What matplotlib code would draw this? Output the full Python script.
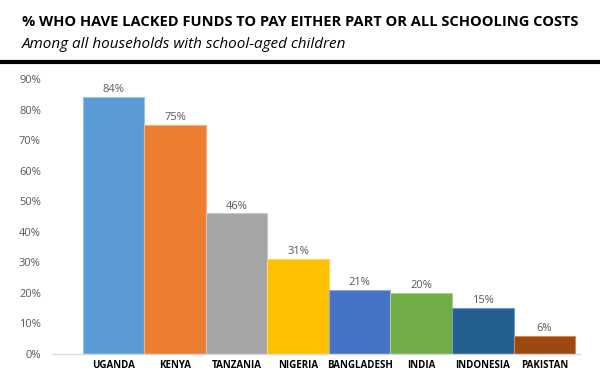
import matplotlib.pyplot as plt
from matplotlib.ticker import PercentFormatter

countries = ['UGANDA', 'KENYA', 'TANZANIA', 'NIGERIA', 'BANGLADESH', 'INDIA', 'INDONESIA', 'PAKISTAN']
values = [84, 75, 46, 31, 21, 20, 15, 6]
colors = ['#5B9BD5', '#ED7D31', '#A5A5A5', '#FFC000', '#4472C4', '#70AD47', '#255E91', '#9E480E']
edges = ['#9DC3E6', '#F4B183', '#C9C9C9', '#FFD966', '#8FAADC', '#A9D18E', '#6F9BC4', '#D08A5A']

plt.rcParams['font.family'] = ['Open Sans', 'DejaVu Sans']

fig = plt.figure(figsize=(6, 3.82), dpi=100)

# titre + sous-titre
fig.text(22 / 600, 1 - 22 / 382, '% WHO HAVE LACKED FUNDS TO PAY EITHER PART OR ALL SCHOOLING COSTS',
         fontsize=10.5, fontweight='bold', va='center', ha='left', color='black')
fig.text(22 / 600, 1 - 44 / 382, 'Among all households with school-aged children',
         fontsize=11, fontstyle='italic', va='center', ha='left', color='black')
fig.add_artist(plt.Line2D([0, 1], [1 - 62 / 382, 1 - 62 / 382], color='black', lw=3))

ax = fig.add_axes([52 / 600, 1 - 354 / 382, (580 - 52) / 600, (354 - 79) / 382])
x = range(len(countries))
ax.bar(x, values, width=1.0, color=colors, edgecolor=edges, linewidth=0.8)

for i, v in enumerate(values):
    ax.text(i, v + 0.6, f'{v}%', ha='center', va='bottom', fontsize=8, color='#595959')

ax.set_xlim(-1.0, 7.58)
ax.set_ylim(0, 90)
ax.set_yticks(range(0, 91, 10))
ax.yaxis.set_major_formatter(PercentFormatter(decimals=0))
ax.set_xticks(list(x))
ax.set_xticklabels(countries, fontsize=7, fontweight='bold', color='black')
ax.tick_params(axis='y', labelsize=8, labelcolor='#595959', length=0, pad=8)
ax.tick_params(axis='x', length=0, pad=4)

for s in ['top', 'right', 'left']:
    ax.spines[s].set_visible(False)
ax.spines['bottom'].set_color('#D9D9D9')
ax.spines['bottom'].set_linewidth(1)

fig.savefig('out.png', dpi=100)
